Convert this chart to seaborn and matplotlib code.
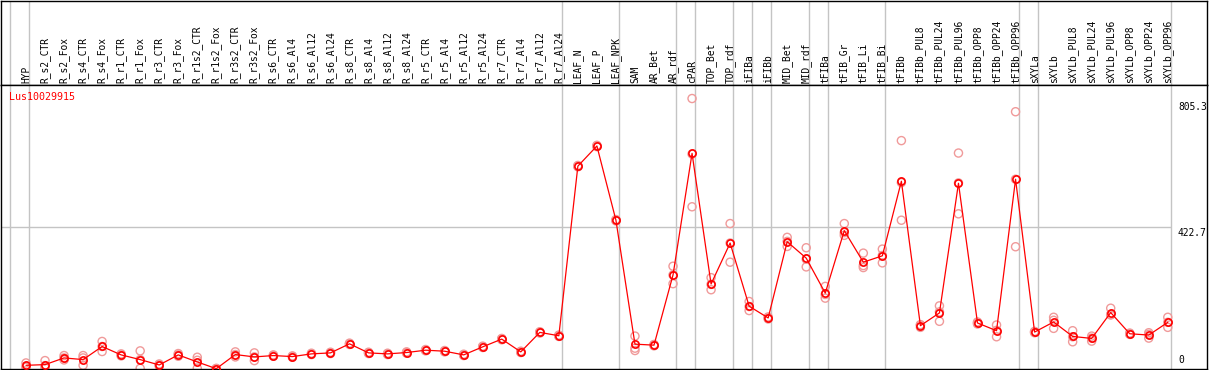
import numpy as np
import pandas as pd
import matplotlib
matplotlib.use("Agg")
import matplotlib.pyplot as plt
import matplotlib.transforms as mtransforms
import seaborn as sns

# ---------------- data ----------------
categories = [
    "HYP", "R_s2_CTR", "R_s2_Fox", "R_s4_CTR", "R_s4_Fox", "R_r1_CTR", "R_r1_Fox",
    "R_r3_CTR", "R_r3_Fox", "R_r1s2_CTR", "R_r1s2_Fox", "R_r3s2_CTR", "R_r3s2_Fox",
    "R_s6_CTR", "R_s6_Al4", "R_s6_Al12", "R_s6_Al24", "R_s8_CTR", "R_s8_Al4",
    "R_s8_Al12", "R_s8_Al24", "R_r5_CTR", "R_r5_Al4", "R_r5_Al12", "R_r5_Al24",
    "R_r7_CTR", "R_r7_Al4", "R_r7_Al12", "R_r7_Al24", "LEAF_N", "LEAF_P", "LEAF_NPK",
    "SAM", "AR_Bet", "AR_rdf", "cPAR", "TOP_Bet", "TOP_rdf", "iFIBa", "iFIBb",
    "MID_Bet", "MID_rdf", "tFIBa", "tFIB_Gr", "tFIB_Li", "tFIB_Bi", "tFIBb",
    "tFIBb_PUL8", "tFIBb_PUL24", "tFIBb_PUL96", "tFIBb_OPP8", "tFIBb_OPP24",
    "tFIBb_OPP96", "sXYLa", "sXYLb", "sXYLb_PUL8", "sXYLb_PUL24", "sXYLb_PUL96",
    "sXYLb_OPP8", "sXYLb_OPP24", "sXYLb_OPP96",
]

mean_values = [
    11, 13, 33, 28, 67, 42, 28, 12, 42, 21, 1, 43, 36,
    40, 37, 45, 48, 75, 48, 45, 49, 56, 53, 42, 66, 89, 51, 109, 99,
    604, 664, 443, 74, 71, 280, 642, 253, 375, 187, 152,
    379, 330, 226, 412, 318, 337, 559, 129, 167, 553, 137, 114, 565,
    110, 140, 97, 91, 168, 105, 101, 139,
]

rep1 = [
    18, 25, 40, 40, 82, 45, 54, 15, 46, 35, 2, 51, 48,
    42, 39, 47, 50, 77, 50, 47, 51, 58, 55, 44, 68, 91, 53, 111, 101,
    606, 666, 445, 98, 73, 306, 805.3, 272, 433, 201, 155,
    392, 361, 246, 433, 345, 357, 680, 132, 188, 643, 140, 131, 766,
    112, 154, 114, 98, 181, 107, 108, 154,
]
rep2 = [
    8, 10, 33, 33, 67, 42, 28, 12, 42, 26, 1, 43, 36,
    40, 37, 45, 48, 75, 48, 45, 49, 56, 53, 42, 66, 89, 51, 109, 99,
    604, 664, 443, 62, 71, 280, 640, 252, 375, 186, 152,
    380, 327, 222, 406, 308, 338, 555, 131, 170, 554, 137, 115, 565,
    110, 145, 96, 92, 162, 105, 103, 139,
]
rep3 = [
    5, 4, 27, 11, 52, 39, 2, 9, 38, 2, 0, 36, 25,
    38, 35, 43, 46, 73, 46, 43, 47, 54, 51, 40, 64, 87, 49, 107, 97,
    602, 662, 441, 55, 69, 254, 483, 236, 318, 174, 149,
    365, 304, 211, 398, 302, 316, 443, 124, 142, 462, 134, 96, 364,
    108, 121, 81, 83, 161, 103, 92, 124,
]

# categories after which a vertical separator is drawn (-1 = left border line)
separator_after = [-1, 0, 28, 31, 34, 35, 37, 38, 39, 41, 42, 45, 52, 53, 60]

gene_name = "Lus10029915"
ytick_values = [805.3, 422.7, 0]
ytick_labels = ["805.3", "422.7", "0"]

# ---------------- frames ----------------
pos = np.arange(len(categories))
df_mean = pd.DataFrame({"pos": pos, "value": mean_values})
df_rep = pd.DataFrame({
    "pos": np.concatenate([pos, pos, pos]),
    "value": np.concatenate([rep1, rep2, rep3]),
})

# ---------------- figure ----------------
sns.set_theme(style="white")
plt.rcParams["font.family"] = ["DejaVu Sans Mono", "DejaVu Sans"]

W, H = 1209, 370
fig = plt.figure(figsize=(W / 100, H / 100), dpi=100)

left_px, right_px = 1, 1207
top_header_px, sep_px, bottom_px = 0.5, 85, 369
ax_head = fig.add_axes([left_px / W, (H - sep_px) / H,
                        (right_px - left_px) / W, (sep_px - top_header_px) / H])
ax = fig.add_axes([left_px / W, (H - bottom_px) / H,
                   (right_px - left_px) / W, (bottom_px - sep_px) / H])

step = 19.03
x0_px = 26
xlim = ((left_px - x0_px) / step, (right_px - x0_px) / step)
ymax = 805.3 * 1.05
for a in (ax, ax_head):
    a.set_xlim(*xlim)
    a.set_xticks([])
    a.set_yticks([])
    for s in a.spines.values():
        s.set_color("black")
        s.set_linewidth(1.0)
ax.set_ylim(0, ymax)
ax_head.set_ylim(0, 1)

grid_color = "#c4c4c4"
sep_positions = [s + 0.16 for s in separator_after]
for sp in sep_positions:
    ax.axvline(sp, color=grid_color, lw=1.0, zorder=0)
    ax_head.axvline(sp, color=grid_color, lw=1.0, zorder=0)
ax.hlines(422.7, xlim[0], sep_positions[-1], color=grid_color, lw=1.0, zorder=0)

# replicates
sns.scatterplot(data=df_rep, x="pos", y="value", ax=ax, marker="o", s=34,
                facecolors="none", edgecolor="#f09a9a", linewidth=1.0,
                zorder=2, legend=False, clip_on=False)
# means
sns.lineplot(data=df_mean, x="pos", y="value", ax=ax, color="#ff0000", lw=0.9,
             marker="o", markersize=5.2, markerfacecolor="none",
             markeredgecolor="#ff0000", markeredgewidth=1.2, zorder=3,
             legend=False, clip_on=False)
ax.set_xlabel("")
ax.set_ylabel("")
ax.set_xlim(*xlim)
ax.set_ylim(0, ymax)

# category labels in header
for p, lab in zip(pos, categories):
    ax_head.annotate(lab, xy=(p, 0), xycoords="data", xytext=(0, 2),
                     textcoords="offset pixels", rotation=90, ha="center",
                     va="bottom", fontsize=6.9, color="black")

# gene name
ax.text((9 - left_px) / (right_px - left_px), 1 - (96.7 - sep_px) / (bottom_px - sep_px),
        gene_name, transform=ax.transAxes, color="#ff0000", fontsize=7.2,
        ha="left", va="center")

# value labels on right
trans = mtransforms.blended_transform_factory(ax.transAxes, ax.transData)
xl = (1178 - left_px) / (right_px - left_px)
offsets = {0: -3, 1: -1, 2: 4}
vas = {0: "top", 1: "top", 2: "bottom"}
for k, (v, t) in enumerate(zip(ytick_values, ytick_labels)):
    ax.annotate(t, xy=(xl, v), xycoords=trans, xytext=(0, offsets[k]),
                textcoords="offset pixels", ha="left", va=vas[k],
                fontsize=6.9, color="black")

fig.savefig("out.png", dpi=100)
